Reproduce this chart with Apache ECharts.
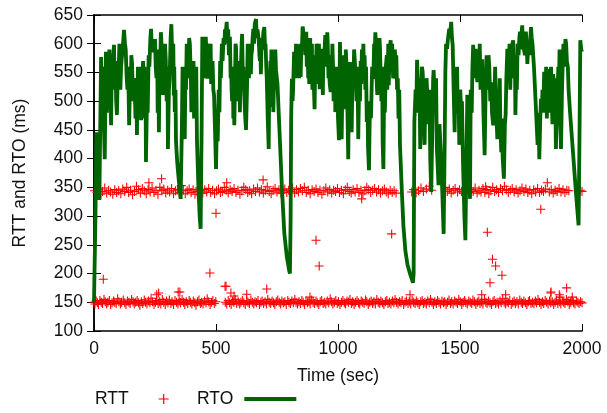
<!DOCTYPE html>
<html>
<head>
<meta charset="utf-8">
<script src="https://cdn.jsdelivr.net/npm/echarts@6/dist/echarts.min.js"></script>
<style>html,body{margin:0;padding:0;background:#fff}#c{width:607px;height:413px}</style>
</head>
<body>
<div id="c"></div>
<script>
// ---- data (time in sec, value in ms) ----
var xTicks = [0, 500, 1000, 1500, 2000];
var yTicks = [100, 150, 200, 250, 300, 350, 400, 450, 500, 550, 600, 650];

var rttLowBand = [[0,150],[4,147],[9,152],[14,149],[19,146],[24,153],[30,150],[35,148],[41,155],[46,151],[52,147],[57,150],[63,153],[68,146],[74,149],[80,152],[85,150],[91,148],[97,156],[102,151],[108,147],[113,150],[120,154],[126,149],[131,146],[137,152],[143,150],[148,148],[154,155],[160,151],[165,147],[171,150],[177,153],[183,149],[188,145],[194,151],[200,148],[206,154],[211,150],[217,147],[223,152],[229,149],[234,157],[240,151],[246,146],[252,150],[257,153],[263,148],[269,151],[274,147],[280,155],[286,150],[292,146],[297,152],[303,149],[309,154],[315,148],[320,151],[326,146],[332,153],[338,150],[344,147],[349,152],[355,149],[361,155],[367,150],[372,146],[378,151],[384,148],[390,153],[395,150],[401,147],[407,152],[413,149],[418,145],[424,151],[430,154],[436,148],[441,150],[447,147],[453,152],[459,149],[464,156],[470,151],[476,146],[482,150],[487,153],[493,148],[499,151],
[538,150],[544,147],[550,153],[556,149],[562,146],[568,152],[573,150],[579,155],[585,148],[591,151],[597,147],[602,150],[608,153],[614,149],[620,146],[626,152],[631,150],[637,148],[643,154],[649,150],[655,147],[660,151],[666,149],[672,153],[678,146],[684,150],[689,152],[695,148],[701,151],[707,147],[712,155],[718,150],[724,148],[730,152],[736,149],[741,146],[747,151],[753,154],[759,150],[765,147],[770,152],[776,149],[782,151],[788,146],[794,153],[799,150],[805,148],[811,152],[817,149],[823,155],[828,150],[834,147],[840,151],[846,148],[852,153],[857,150],[863,146],[869,152],[875,149],[881,151],[886,147],[892,154],[898,150],[904,148],[910,152],[915,149],[921,146],[927,151],[933,153],[939,148],[944,150],[950,147],[956,152],[962,149],[968,156],[973,151],[979,147],[985,150],[991,153],[997,148],[1002,151],[1008,146],[1014,150],[1020,153],[1026,149],[1031,147],[1037,152],[1043,150],[1049,155],[1055,148],[1060,151],[1066,146],[1072,150],[1078,153],[1084,149],[1089,147],[1095,152],[1101,150],[1107,148],[1113,154],[1118,151],[1124,146],[1130,150],[1136,152],[1142,148],[1147,151],[1153,147],[1159,155],[1165,150],[1171,148],[1176,152],[1182,149],[1188,146],[1194,151],[1200,153],[1205,148],[1211,150],[1217,147],[1223,152],[1229,149],[1234,155],[1240,150],[1246,147],[1252,151],[1258,149],[1263,153],[1269,146],[1275,150],[1281,152],[1287,148],[1292,151],[1298,147],[1304,154],[1310,150],[1316,148],[1321,152],[1327,149],[1333,146],[1339,151],[1345,153],[1350,148],[1356,150],[1362,147],[1368,152],[1374,149],[1379,155],[1385,150],[1391,146],[1397,151],[1403,148],[1408,153],[1414,150],[1420,147],[1426,152],[1432,149],[1437,151],[1443,146],[1449,150],[1455,154],[1461,148],[1466,151],[1472,147],[1478,152],[1484,150],[1490,148],[1495,155],[1501,151],[1507,146],[1513,150],[1519,153],[1524,149],[1530,147],[1536,152],[1542,150],[1548,148],[1553,154],[1559,151],[1565,146],[1571,150],[1577,152],[1582,148],[1588,151],[1594,147],[1600,155],[1606,150],[1611,148],[1617,152],[1623,149],[1629,146],[1635,151],[1640,153],[1646,148],[1652,150],[1658,147],[1664,152],[1669,149],[1675,156],[1681,150],[1687,147],[1693,151],[1698,149],[1704,153],[1710,146],[1716,150],[1722,152],[1727,148],[1733,151],[1739,147],[1745,154],[1751,150],[1756,148],[1762,152],[1768,149],[1774,146],[1780,151],[1785,153],[1791,148],[1797,150],[1803,147],[1809,152],[1814,149],[1820,155],[1826,150],[1832,146],[1838,151],[1843,148],[1849,153],[1855,150],[1861,147],[1867,152],[1872,149],[1878,151],[1884,146],[1890,150],[1896,154],[1901,148],[1907,151],[1913,147],[1919,152],[1925,150],[1930,148],[1936,155],[1942,151],[1948,146],[1954,150],[1959,153],[1965,149],[1971,147],[1977,152],[1983,150],[1988,148],[1994,151],[2000,149]];

var rttHighBand = [[2,344],[12,341],[20,347],[28,338],[35,343],[44,349],[52,340],[60,345],[68,342],[77,338],[85,346],[93,341],[101,344],[110,339],[118,347],[126,343],[134,350],[142,341],[150,345],[158,337],[166,343],[174,352],[182,346],[190,340],[198,348],[206,344],[214,339],[222,346],[230,342],[238,349],[246,341],[254,345],[262,338],[270,350],[278,344],[286,347],[294,340],[302,345],[310,342],[318,348],[326,339],[334,344],[342,346],[350,341],[358,353],[366,345],[374,339],[382,344],[390,347],[398,341],[406,346],[414,338],[422,343],[430,349],[438,344],[446,340],[454,346],[462,342],[470,348],[478,341],[486,345],[494,339],[502,344],[510,347],[518,341],[526,343],[534,350],[542,345],[550,340],[558,346],[566,343],[574,348],[582,341],[590,345],[598,338],[606,344],[614,350],[622,346],[630,341],[638,344],[646,339],[654,347],[662,343],[670,349],[678,342],[686,346],[694,340],[702,345],[710,351],[718,343],[726,339],[734,345],[742,348],[750,342],[758,346],[766,340],[774,344],[782,347],[790,341],[798,345],[806,343],[814,349],[822,340],[830,346],[838,342],[846,348],[854,344],[862,350],[870,341],[878,345],[886,339],[894,346],[902,343],[910,347],[918,341],[926,345],[934,338],[942,344],[950,349],[958,342],[966,346],[974,340],[982,345],[990,343],[998,348],[1006,341],[1014,345],[1022,339],[1030,346],[1038,350],[1046,343],[1054,340],[1062,346],[1070,342],[1078,348],[1086,341],[1094,345],[1102,339],[1110,344],[1118,350],[1126,346],[1134,341],[1142,345],[1150,348],[1158,342],[1166,346],[1174,340],[1182,344],[1190,347],[1198,342],[1206,339],[1214,345],[1222,341],[1230,344],[1238,340],
[1302,342],[1310,346],[1320,340],[1330,344],[1340,349],[1350,343],[1362,347],[1374,352],[1384,345],
[1440,350],[1448,343],[1456,347],[1464,340],[1472,345],[1480,348],[1490,342],[1498,346],[1506,343],[1514,340],[1522,345],[1530,347],[1538,341],[1546,346],[1554,343],[1562,349],[1570,340],[1578,345],[1586,342],[1594,348],[1602,341],[1610,346],[1618,339],[1626,344],[1634,350],[1642,343],[1650,346],[1658,341],[1666,348],[1674,344],[1682,352],[1690,346],[1698,341],[1706,345],[1714,348],[1722,342],[1730,346],[1738,340],[1746,344],[1754,349],[1762,343],[1770,347],[1778,341],[1786,345],[1794,339],[1802,346],[1810,342],[1818,348],[1826,341],[1834,345],[1842,343],[1850,347],[1866,342],[1874,346],[1882,340],[1890,345],[1898,343],[1906,348],[1914,342],[1922,346],[1930,341],[1938,345],[1946,344],[1993,345],[2000,343]];

var rttOutliers = [[38,190],[257,163],[265,166],[345,168],[352,168],[475,201],[500,305],[537,178],[541,178],[561,166],[574,161],[626,164],[708,173],[885,159],[910,258],[923,213],[277,365],[225,358],[544,358],[693,363],[1097,330],[1220,269],[1295,163],[1612,272],[1633,225],[1646,213],[1672,197],[1623,184],[1687,163],[1589,163],[1831,312],[1858,358],[1872,166],[1907,163],[1937,175],[1605,351],[1873,168],[1910,159],[1960,159]];

var rtoPoints = [[0,150],[6,300],[10,446],[16,400],[22,328],[29,577],[33,500],[36,560],[40,470],[44,399],[49,586],[52,480],[56,560],[60,520],[63,590],[67,500],[70,458],[73,560],[76,530],[79,580],[82,598],[85,520],[88,570],[91,500],[94,476],[98,560],[101,551],[104,600],[108,520],[111,560],[115,580],[119,600],[123,624],[127,600],[130,590],[134,540],[137,520],[140,560],[144,458],[147,520],[150,500],[153,580],[156,565],[160,500],[163,540],[167,520],[170,470],[173,540],[176,441],[180,560],[183,530],[186,560],[188,500],[191,540],[193,467],[196,560],[198,510],[201,570],[204,542],[207,560],[209,470],[211,530],[213,394],[217,500],[220,480],[224,580],[227,560],[231,610],[234,626],[237,590],[240,600],[245,585],
[250,608],[253,560],[256,540],[259,590],[261,480],[264,540],[266,446],[269,590],[271,560],[274,620],[276,606],[280,560],[283,511],[286,590],[288,560],[291,600],[294,573],[296,530],[298,500],[301,560],[303,417],[307,520],[310,540],[314,610],[317,634],[320,590],[323,560],[325,600],[327,510],[329,560],[331,481],[334,520],[336,430],[341,394],[348,360],[355,330],[360,450],[363,560],[366,525],[369,480],[372,434],[375,560],[377,520],[380,600],[382,586],[385,540],[388,570],[390,610],[393,599],[397,540],[399,481],[402,560],[405,520],[408,570],[410,470],[413,540],[416,500],[419,560],[422,430],[428,350],[433,300],[437,278],[441,450],[444,612],[448,560],[451,600],[455,540],[458,612],[462,575],[465,539],[468,600],[470,590],[473,540],[475,560],[478,600],[480,530],[483,560],[486,570],[489,520],[492,511],[496,450],[500,382],
[504,470],[507,430],[511,520],[514,481],[517,570],[520,540],[524,600],[527,570],[531,610],[534,598],[537,625],[540,620],[544,638],[547,600],[550,625],[553,580],[557,612],[560,540],[562,560],[564,520],[566,500],[569,560],[571,470],[573,520],[575,458],[578,530],[580,600],[582,594],[585,540],[587,560],[590,500],[592,520],[595,570],[598,481],[600,540],[602,560],[605,600],[607,617],[610,540],[612,560],[615,520],[617,500],[620,470],[623,450],[627,520],[630,600],[632,580],[635,540],[637,560],[640,600],[643,547],[645,580],[648,590],[650,610],[653,626],[656,600],[659,635],[664,643],[667,610],[670,625],[675,608],[678,580],[680,570],[682,600],[684,547],[687,610],[690,590],[694,620],[698,629],[701,590],[703,600],[706,560],[708,540],[712,470],[716,417],[718,520],[720,490],[723,570],[725,547],[727,590],[730,510],[733,560],[735,481],[738,540],[740,520],[743,590],[746,554],[752,530],[760,450],[770,350],[780,270],[790,230],[800,205],[803,200],[806,300],[808,469],[811,539],[814,500],[816,520],[820,586],[822,540],[825,560],[828,600],[830,540],[834,580],[839,598],[841,540],[843,570],[845,600],[847,542],[850,600],[852,590],[855,630],[857,624],[860,590],[863,610],[866,580],[870,621],[872,560],[875,600],[878,540],[880,590],[882,530],[884,570],[886,610],[888,563],[891,540],[893,600],[895,520],[897,570],[900,540],[904,486],[907,580],[909,540],[912,600],[915,586],[918,530],[920,560],[922,600],[925,521],[928,570],[932,591],[935,550],[938,511],[940,590],[943,570],[946,600],[948,615],[950,560],[953,580],[956,620],[958,600],[961,540],[963,560],[966,530],[970,516],[972,580],[975,545],[977,600],[980,555],[982,500],[985,520],[987,560],[989,481],[992,540],[995,520],[998,560],[1000,470],[1004,432],[1008,603],
[1012,520],[1015,434],[1019,560],[1022,580],[1024,500],[1026,520],[1029,486],[1032,590],[1035,560],[1038,500],[1042,399],[1046,560],[1049,568],[1051,520],[1053,500],[1056,446],[1060,560],[1063,530],[1066,590],[1070,591],[1073,540],[1076,500],[1080,560],[1083,434],[1087,540],[1090,500],[1093,570],[1095,530],[1098,590],[1101,556],[1104,600],[1107,540],[1109,580],[1112,520],[1115,560],[1118,464],[1121,500],[1123,420],[1127,380],[1131,500],[1135,470],[1140,560],[1145,539],[1148,600],[1150,570],[1153,620],[1156,598],[1158,540],[1161,511],[1164,580],[1167,560],[1170,610],[1172,594],[1175,540],[1178,500],[1181,560],[1183,430],[1186,382],[1189,520],[1192,480],[1196,560],[1200,580],[1202,520],[1204,550],[1206,600],[1208,528],[1212,590],[1216,606],[1219,560],[1222,600],[1226,540],[1230,545],[1233,590],[1236,560],[1239,580],[1242,520],[1245,540],[1248,470],[1251,520],[1254,424],[1262,340],[1268,284],[1276,240],[1285,215],[1295,200],[1303,190],[1307,184],[1310,200],[1313,464],[1318,520],[1321,480],[1324,572],[1327,540],[1330,500],[1334,540],[1337,417],[1342,500],[1344,560],[1347,551],[1350,520],[1352,480],[1355,424],[1358,520],[1360,480],[1363,540],[1365,521],[1368,480],[1372,460],[1375,520],[1378,400],[1382,342],[1387,460],[1390,540],[1392,554],[1395,520],[1398,500],[1402,540],[1405,420],[1412,354],[1416,460],[1420,420],[1426,360],[1433,269],[1437,420],[1440,551],[1443,600],[1447,591],[1451,610],[1456,626],[1460,620],[1464,638],[1467,610],[1470,598],[1474,520],[1478,446],[1482,540],[1485,520],[1488,560],[1491,480],[1494,520],[1497,424],[1501,520],[1505,480],[1508,500],[1512,400],[1518,300],[1522,258],[1527,255],[1530,511],[1533,460],[1536,420],[1541,330],[1544,520],[1548,480],[1551,560],[1554,598],[1557,560],[1560,590],[1562,540],[1564,591],[1567,560],[1571,533],[1574,580],[1578,560],[1581,600],[1584,520],[1588,560],[1591,573],[1594,520],[1596,480],[1601,406],[1605,520],[1609,580],[1612,540],[1614,520],[1617,580],[1620,560],[1624,500],[1628,533],[1631,480],[1636,458],[1638,520],[1641,500],[1644,560],[1646,516],[1649,480],[1653,434],[1657,520],[1660,500],[1663,540],[1665,470],[1669,411],[1672,470],[1675,400],[1680,365],[1684,460],[1687,476],[1690,540],[1694,591],[1697,540],[1700,560],[1703,600],[1706,520],[1709,580],[1712,560],[1715,600],[1718,606],[1720,560],[1722,540],[1725,580],[1727,476],[1730,540],[1733,520],[1736,600],[1740,580],[1743,610],[1746,621],[1749,590],[1751,610],[1755,632],[1758,600],[1762,600],[1766,580],[1770,621],[1773,600],[1776,565],[1781,603],[1784,580],[1787,600],[1791,629],[1794,610],[1797,600],[1800,580],[1803,560],[1808,516],[1813,470],[1818,424],[1822,480],[1825,399],[1829,470],[1832,504],[1835,480],[1838,520],[1842,500],[1845,551],[1848,480],[1850,500],[1853,560],[1856,470],[1860,540],[1864,556],[1867,480],[1870,520],[1873,560],[1876,500],[1879,460],[1882,547],[1885,520],[1888,480],[1890,540],[1893,417],[1897,480],[1900,520],[1903,560],[1906,540],[1908,590],[1910,480],[1914,417],[1918,520],[1921,565],[1924,600],[1926,590],[1929,560],[1932,608],[1935,600],[1938,570],[1942,560],[1945,520],[1951,481],[1958,440],[1965,400],[1975,342],[1986,284],[1990,450],[1993,606],[1997,590],[2000,586]];

// ---- chart ----
var FONT = 'Liberation Sans';
var FS = 17.5;
var plusPath = 'path://M4.4,0H5.6V4.4H10V5.6H5.6V10H4.4V5.6H0V4.4H4.4Z';
var rttAll = rttLowBand.concat(rttHighBand, rttOutliers);

var chart = echarts.init(document.getElementById('c'), null, {renderer: 'canvas'});
var axisCommon = {
  axisLine: {show: true, lineStyle: {color: '#000', width: 1.5}},
  axisTick: {show: true, inside: true, length: 7, lineStyle: {color: '#000', width: 1}},
  splitLine: {show: false}
};
var plain = function (v) { return String(v); };
chart.setOption({
  animation: false,
  backgroundColor: '#fff',
  textStyle: {fontFamily: FONT},
  grid: {left: 94, right: 25, top: 15, bottom: 82, containLabel: false},
  xAxis: [
    Object.assign({
      type: 'value', position: 'bottom', min: xTicks[0], max: xTicks[xTicks.length - 1], interval: 500,
      name: 'Time (sec)', nameLocation: 'middle', nameGap: 36,
      nameTextStyle: {fontSize: FS, color: '#111', fontFamily: FONT},
      axisLabel: {fontSize: FS, color: '#111', margin: 9, fontFamily: FONT, formatter: plain}
    }, axisCommon),
    Object.assign({
      type: 'value', position: 'top', min: xTicks[0], max: xTicks[xTicks.length - 1], interval: 500,
      axisLabel: {show: false}
    }, axisCommon)
  ],
  yAxis: [
    Object.assign({
      type: 'value', position: 'left', min: yTicks[0], max: yTicks[yTicks.length - 1], interval: 50,
      name: 'RTT and RTO (ms)', nameLocation: 'middle', nameGap: 65,
      nameTextStyle: {fontSize: FS, color: '#111', fontFamily: FONT},
      axisLabel: {fontSize: FS, color: '#111', margin: 11, fontFamily: FONT, formatter: plain}
    }, axisCommon),
    Object.assign({
      type: 'value', position: 'right', min: yTicks[0], max: yTicks[yTicks.length - 1], interval: 50,
      axisLabel: {show: false}
    }, axisCommon)
  ],
  legend: [
    {
      data: [{name: 'RTT', icon: plusPath}],
      left: 95, top: 390, padding: 0, align: 'right',
      itemWidth: 60, itemHeight: 10, symbolKeepAspect: true,
      textStyle: {fontSize: FS, color: '#111', fontFamily: FONT}
    },
    {
      data: [{name: 'RTO', icon: 'rect'}],
      left: 197, top: 390, padding: 0, align: 'right',
      itemWidth: 52, itemHeight: 4,
      itemStyle: {color: '#006400', borderWidth: 0},
      textStyle: {fontSize: FS, color: '#111', fontFamily: FONT, padding: [0, 6, 0, 0]}
    }
  ],
  series: [
    {
      name: 'RTT', type: 'scatter', data: rttAll,
      symbol: plusPath, symbolSize: 9,
      itemStyle: {color: '#ff0000', opacity: 1},
      xAxisIndex: 0, yAxisIndex: 0, z: 2
    },
    {
      name: 'RTO', type: 'line', data: rtoPoints,
      showSymbol: false, symbol: 'none',
      lineStyle: {color: '#006400', width: 3.8},
      itemStyle: {color: '#006400'},
      xAxisIndex: 0, yAxisIndex: 0, z: 3
    }
  ]
});
</script>
</body>
</html>
